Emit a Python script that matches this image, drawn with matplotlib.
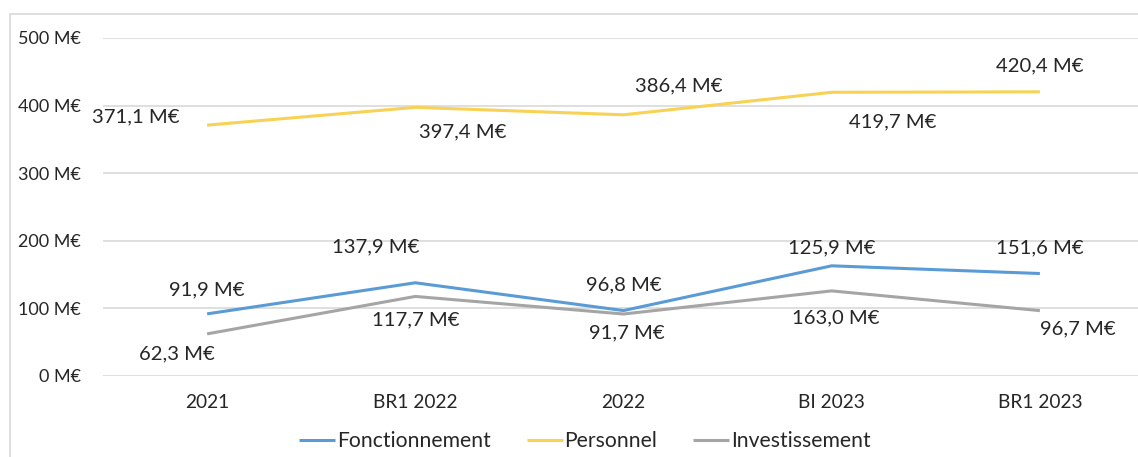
import matplotlib
matplotlib.use("Agg")
import matplotlib.pyplot as plt
from matplotlib.patches import Rectangle

categories = ["2021", "BR1 2022", "2022", "BI 2023", "BR1 2023"]
fonctionnement = [91.9, 137.9, 96.8, 163.0, 151.6]
personnel = [371.1, 397.4, 386.4, 419.7, 420.4]
investissement = [62.3, 117.7, 91.7, 125.9, 96.7]
fonct_labels = ["91,9 M€", "137,9 M€", "96,8 M€", "125,9 M€", "151,6 M€"]
perso_labels = ["371,1 M€", "397,4 M€", "386,4 M€", "419,7 M€", "420,4 M€"]
invest_labels = ["62,3 M€", "117,7 M€", "91,7 M€", "163,0 M€", "96,7 M€"]
yticks = [0, 100, 200, 300, 400, 500]
ytick_labels = ["0 M€", "100 M€", "200 M€", "300 M€", "400 M€", "500 M€"]

plt.rcParams['font.family'] = ['Lato', 'DejaVu Sans']
W, H = 1138, 457
fig = plt.figure(figsize=(W / 100, H / 100), dpi=100)

x0, x1 = 103, 1144
y0, y1 = 376, 38  # pixel rows of 0 and 500
ax = fig.add_axes([x0 / W, (H - y0) / H, (x1 - x0) / W, (y0 - y1) / H])
ax.set_xlim(-0.5, 4.5)
ax.set_ylim(0, 500)

colors = {"Fonctionnement": "#5B9BD5", "Personnel": "#F8D255", "Investissement": "#A5A5A5"}
xs = list(range(len(categories)))
ax.plot(xs, fonctionnement, color=colors["Fonctionnement"], lw=2.2, label="Fonctionnement", solid_capstyle='butt', zorder=3)
ax.plot(xs, personnel, color=colors["Personnel"], lw=2.2, label="Personnel", solid_capstyle='butt', zorder=3)
ax.plot(xs, investissement, color=colors["Investissement"], lw=2.2, label="Investissement", solid_capstyle='butt', zorder=3)

fs_lab = 14.6
fs_xtick = 13.8
fs_ytick = 13.0
fs_leg = 15.2
# label offsets in pixels (dx, dy) relative to the data point
perso_off = [(-71, 8), (47, -25), (55, 29), (61, -30), (0, 26)]
fonct_off = [(0, 24), (-40, 36), (0, 26), (0, 18), (0, 26)]
invest_off = [(-30, -20), (0, -23), (3, -19), (4, -27), (38, -18)]
for vals, labs, offs in [(personnel, perso_labels, perso_off),
                         (fonctionnement, fonct_labels, fonct_off),
                         (investissement, invest_labels, invest_off)]:
    for i, (v, t, o) in enumerate(zip(vals, labs, offs)):
        ax.annotate(t, (i, v), xytext=o, textcoords='offset pixels',
                    ha='center', va='center', fontsize=fs_lab, color='#262626')

ax.set_yticks(yticks)
ax.set_yticklabels(ytick_labels, fontsize=fs_ytick, color='#262626')
ax.set_xticks(xs)
ax.set_xticklabels(categories, fontsize=fs_xtick, color='#262626')
ax.tick_params(axis='both', length=0)
ax.tick_params(axis='y', pad=16)
ax.tick_params(axis='x', pad=13)
ax.grid(axis='y', color='#D9D9D9', lw=1.2)
ax.set_axisbelow(True)
for s in ax.spines.values():
    s.set_visible(False)

leg = fig.legend(loc='center', bbox_to_anchor=(585 / W, (H - 441) / H), ncol=3, frameon=False,
                 fontsize=fs_leg, handlelength=1.7, handletextpad=0.1, columnspacing=1.7,
                 labelcolor='#262626')

fig.patches.append(Rectangle((10 / W, -0.1), 1.2, (H - 14) / H + 0.1, transform=fig.transFigure,
                             fill=False, edgecolor='#D9D9D9', lw=1.2))

fig.savefig("out.png", dpi=100)
